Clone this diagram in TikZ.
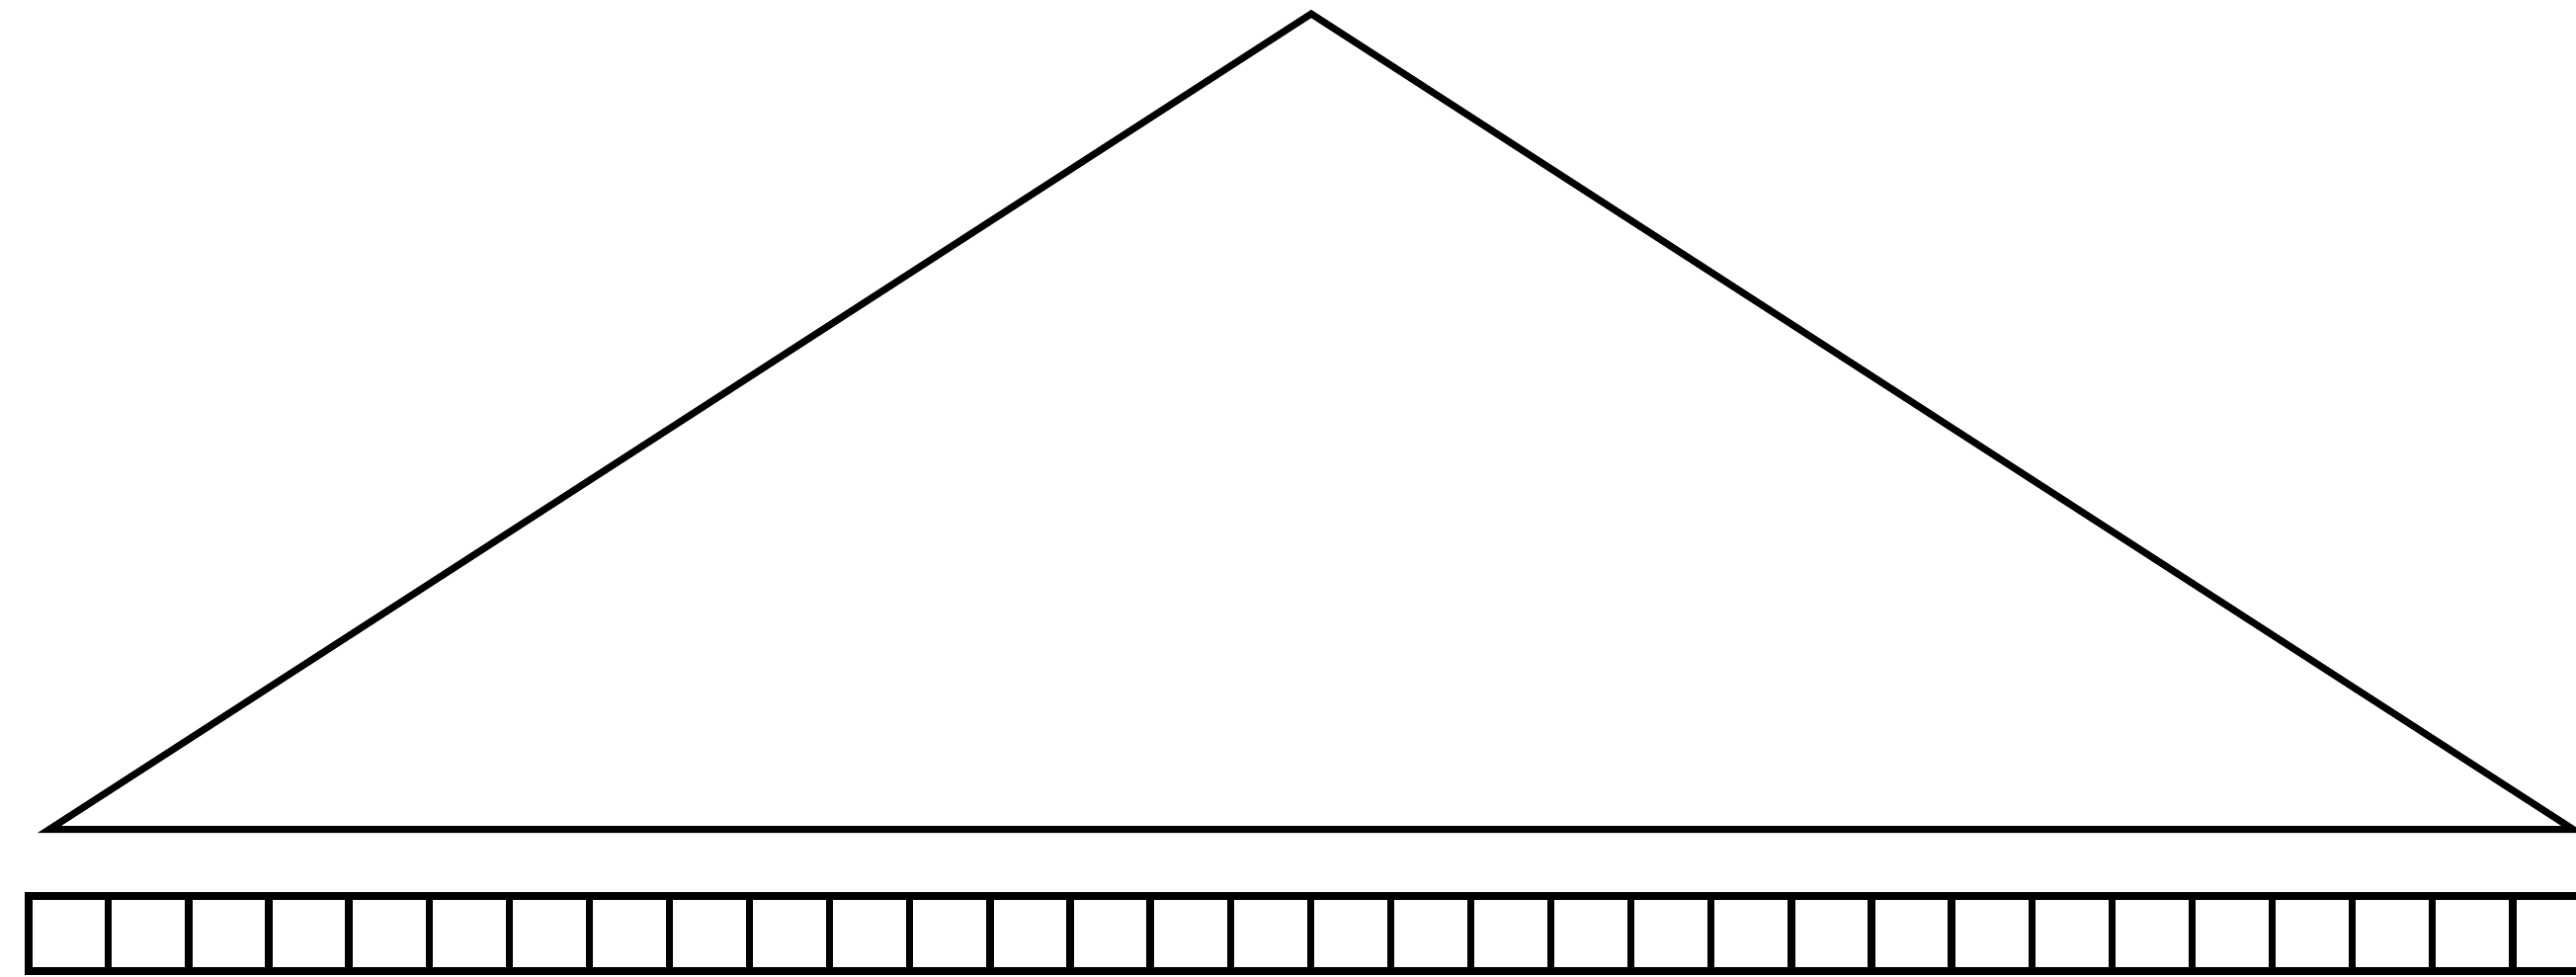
\documentclass[tikz,border=0pt]{standalone}
\begin{document}
\begin{tikzpicture}[x=0.01cm,y=-0.01cm,
  tri/.style={draw=black,line width=1.99pt,line join=miter},
  barframe/.style={draw=black,line width=2.28pt,line join=miter},
  divider/.style={draw=black,line width=2.08pt}]
\useasboundingbox (0,0) rectangle (2607,988);
\clip (0,0) rectangle (2607,988);
% triangle
\coordinate (apex) at (1327,14);
\coordinate (bl) at (50,839.5);
\coordinate (br) at (2604,839.5);
\draw[tri] (apex) -- (br) -- (bl) -- cycle;
% bar of 32 cells
\coordinate (barTL) at (28.7,906.7);
\coordinate (barBR) at (2624,983.3);
\draw[barframe] (barTL) rectangle (barBR);
\foreach \k in {1,...,31}{
  \draw[divider] ({28.7+\k*81.1},906.7) -- ({28.7+\k*81.1},983.3);
}
\end{tikzpicture}
\end{document}
